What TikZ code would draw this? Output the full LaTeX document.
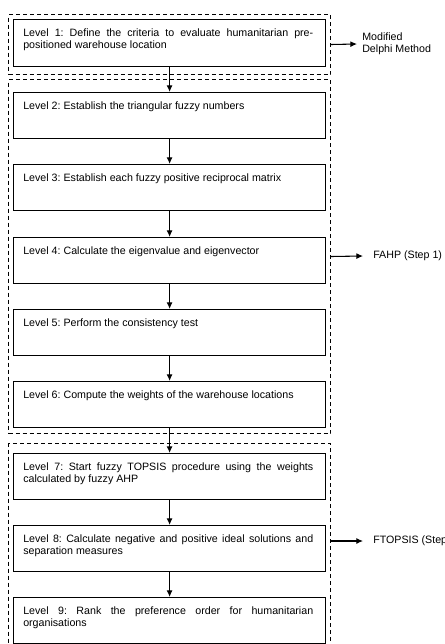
\documentclass[tikz,border=0pt]{standalone}
\usepackage{fontspec}
\setmainfont{Liberation Sans}
\usetikzlibrary{arrows.meta}
\frenchspacing
\begin{document}
\begin{tikzpicture}[x=0.75pt,y=-0.75pt,
  box/.style={draw, line width=0.9pt, minimum width=234pt, minimum height=34.5pt, inner sep=0pt, anchor=north west},
  dbox/.style={draw, dash pattern=on 3pt off 2.25pt, line width=0.75pt, inner sep=0pt, minimum width=241.5pt, anchor=north west},
  txt/.style={anchor=north west, inner sep=0pt, text width=217.5pt, align=justify, font=\fontsize{8}{9}\selectfont},
  lab/.style={anchor=west, inner ysep=0pt, align=left, font=\fontsize{8}{9}\selectfont},
  arr/.style={-{Latex[length=5pt,width=4.5pt]}, line width=0.8pt}]
\useasboundingbox (0,0) rectangle (445,644);
% dashed groups
\node[dbox, minimum height=45pt] (d1) at (8,14) {};
\node[dbox, minimum height=265.5pt] (d2) at (8,79) {};
\node[dbox, minimum height=153pt] (d3) at (8,443) {};
% boxes
\node[box, minimum height=35.25pt] (b1) at (13,19) {};
\node[box] (b2) at (13,92) {};
\node[box] (b3) at (13,164) {};
\node[box] (b4) at (13,237) {};
\node[box] (b5) at (13,309) {};
\node[box] (b6) at (13,381) {};
\node[box] (b7) at (13,453) {};
\node[box] (b8) at (13,525) {};
\node[box] (b9) at (13,597) {};
% texts
\node[txt] (t1) at ([xshift=7.5pt,yshift=-6.75pt]b1.north west) {Level 1: Define the criteria to evaluate humanitarian pre-\linebreak positioned warehouse location};
\node[txt] (t2) at ([xshift=7.5pt,yshift=-6.75pt]b2.north west) {Level 2: Establish the triangular fuzzy numbers};
\node[txt] (t3) at ([xshift=7.5pt,yshift=-6.75pt]b3.north west) {Level 3: Establish each fuzzy positive reciprocal matrix};
\node[txt] (t4) at ([xshift=7.5pt,yshift=-6.75pt]b4.north west) {Level 4: Calculate the eigenvalue and eigenvector};
\node[txt] (t5) at ([xshift=7.5pt,yshift=-6.75pt]b5.north west) {Level 5: Perform the consistency test};
\node[txt] (t6) at ([xshift=7.5pt,yshift=-6.75pt]b6.north west) {Level 6: Compute the weights of the warehouse locations};
\node[txt] (t7) at ([xshift=7.5pt,yshift=-6.75pt]b7.north west) {Level 7: Start fuzzy TOPSIS procedure using the weights\linebreak calculated by fuzzy AHP};
\node[txt] (t8) at ([xshift=7.5pt,yshift=-6.75pt]b8.north west) {Level 8: Calculate negative and positive ideal solutions and\linebreak separation measures};
\node[txt] (t9) at ([xshift=7.5pt,yshift=-6.75pt]b9.north west) {Level 9: Rank the preference order for humanitarian\linebreak organisations};
% vertical arrows
\draw[arr] (b1) -- (b2);
\draw[arr] (b2) -- (b3);
\draw[arr] (b3) -- (b4);
\draw[arr] (b4) -- (b5);
\draw[arr] (b5) -- (b6);
\draw[arr] (b6) -- (b7);
\draw[arr] (b7) -- (b8);
\draw[arr] (b8) -- (b9);
% side labels
\node[lab, inner xsep=3.75pt] (m1) at (357,44) {Modified\\Delphi Method};
\node[lab, inner xsep=7.5pt] (m2) at (363,256) {FAHP (Step 1)};
\node[lab, inner xsep=7.5pt] (m3) at (363,541) {FTOPSIS (Step 2)};
\draw[arr] (d1.east) -- (m1.west);
\draw[arr] (d2.east) -- (m2.west);
\draw[arr] (d3.east |- m3.west) -- (m3.west);
\end{tikzpicture}
\end{document}
